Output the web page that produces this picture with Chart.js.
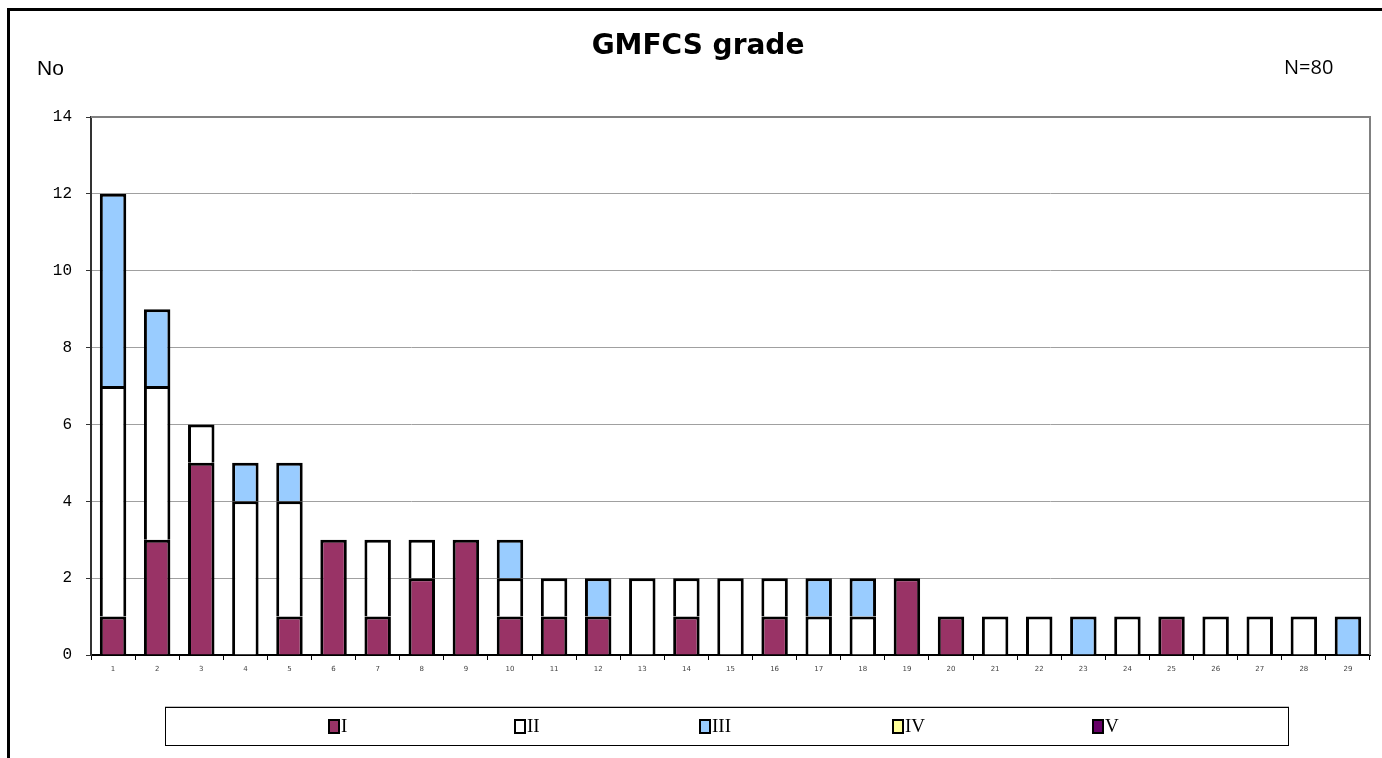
<!DOCTYPE html>
<html>
<head>
<meta charset="utf-8">
<script src="https://cdn.jsdelivr.net/npm/chart.js@4.4.1/dist/chart.umd.min.js"></script>
<style>
  html, body { margin: 0; padding: 0; background: #fff; overflow: hidden; }
  #wrap { position: relative; width: 1382px; height: 758px; }
  #frame { position: absolute; left: 7px; top: 8px; width: 1400px; height: 800px;
           border-left: 3px solid #000; border-top: 3px solid #000; }
  #gmfcsChart { position: absolute; left: 0; top: 0; }
</style>
</head>
<body>
<div id="wrap">
  <div id="frame"></div>
  <canvas id="gmfcsChart" width="1382" height="758"></canvas>
</div>
<script>
'use strict';

const categories = ['1', '2', '3', '4', '5', '6', '7', '8', '9', '10',
  '11', '12', '13', '14', '15', '16', '17', '18', '19', '20',
  '21', '22', '23', '24', '25', '26', '27', '28', '29'];

const gradeI   = [1, 3, 5, 0, 1, 3, 1, 2, 3, 1, 1, 1, 0, 1, 0, 1, 0, 0, 2, 1, 0, 0, 0, 0, 1, 0, 0, 0, 0];
const gradeII  = [6, 4, 1, 4, 3, 0, 2, 1, 0, 1, 1, 0, 2, 1, 2, 1, 1, 1, 0, 0, 1, 1, 0, 1, 0, 1, 1, 1, 0];
const gradeIII = [5, 2, 0, 1, 1, 0, 0, 0, 0, 1, 0, 1, 0, 0, 0, 0, 1, 1, 0, 0, 0, 0, 1, 0, 0, 0, 0, 0, 1];
const gradeIV  = [0, 0, 0, 0, 0, 0, 0, 0, 0, 0, 0, 0, 0, 0, 0, 0, 0, 0, 0, 0, 0, 0, 0, 0, 0, 0, 0, 0, 0];
const gradeV   = [0, 0, 0, 0, 0, 0, 0, 0, 0, 0, 0, 0, 0, 0, 0, 0, 0, 0, 0, 0, 0, 0, 0, 0, 0, 0, 0, 0, 0];

const yTicks = [0, 2, 4, 6, 8, 10, 12, 14];

const seriesNames = ['I', 'II', 'III', 'IV', 'V'];
const seriesColors = ['#993366', '#ffffff', '#99ccff', '#ffff99', '#660066'];

// texts, frame and the boxed legend drawn on top of the chart
const extrasPlugin = {
  id: 'extras',
  afterDraw(chart) {
    const ctx = chart.ctx;
    const area = chart.chartArea;
    ctx.save();

    // gray top/right edge of the plot area
    ctx.strokeStyle = '#808080';
    ctx.lineWidth = 2;
    ctx.beginPath();
    ctx.moveTo(area.left, area.top);
    ctx.lineTo(area.right, area.top);
    ctx.lineTo(area.right, area.bottom);
    ctx.stroke();

    ctx.fillStyle = '#000';
    ctx.textBaseline = 'middle';
    ctx.textAlign = 'center';
    ctx.font = 'bold 28px "DejaVu Sans"';
    ctx.fillText('GMFCS grade', 698, 47);

    ctx.textAlign = 'left';
    ctx.font = '21px "Liberation Sans"';
    ctx.fillText('No', 37, 69);
    ctx.font = '20px "Open Sans"';
    ctx.fillText('N=80', 1284, 68);

    // legend box
    ctx.strokeStyle = '#000';
    ctx.lineWidth = 1;
    ctx.strokeRect(165.5, 707.5, 1123, 38);
    ctx.strokeStyle = '#c0c0c0';
    ctx.beginPath();
    ctx.moveTo(165, 706.5);
    ctx.lineTo(1289, 706.5);
    ctx.stroke();

    const starts = [329, 515, 700, 893, 1093];
    ctx.font = '19px "Liberation Serif"';
    chart.data.datasets.forEach((ds, i) => {
      const x = starts[i];
      ctx.fillStyle = ds.backgroundColor;
      ctx.fillRect(x, 720, 10, 13);
      ctx.strokeStyle = '#000';
      ctx.lineWidth = 2;
      ctx.strokeRect(x, 720, 10, 13);
      ctx.fillStyle = '#000';
      ctx.fillText(ds.label, x + 12, 727);
    });
    ctx.restore();
  }
};

const datasets = [gradeI, gradeII, gradeIII, gradeIV, gradeV].map((values, i) => ({
  label: seriesNames[i],
  data: values,
  backgroundColor: seriesColors[i],
  borderColor: '#000',
  borderWidth: 3,
  barPercentage: 0.6,
  categoryPercentage: 1.0
}));

new Chart(document.getElementById('gmfcsChart').getContext('2d'), {
  type: 'bar',
  data: { labels: categories, datasets: datasets },
  options: {
    responsive: false,
    animation: false,
    layout: { padding: { left: 20, top: 117, right: 12, bottom: 78 } },
    plugins: {
      legend: { display: false },
      tooltip: { enabled: false }
    },
    scales: {
      x: {
        stacked: true,
        afterFit(axis) { axis.height = 25; },
        grid: {
          offset: true,
          drawOnChartArea: false,
          color: '#000',
          tickLength: 5
        },
        border: { color: '#000', width: 2 },
        ticks: {
          color: '#444',
          font: { family: 'DejaVu Sans', size: 7 },
          padding: 5,
          maxRotation: 0,
          autoSkip: false
        }
      },
      y: {
        stacked: true,
        min: 0,
        max: 14,
        afterFit(axis) { axis.width = 71; },
        afterBuildTicks(axis) { axis.ticks = yTicks.map(v => ({ value: v })); },
        grid: {
          color: '#a0a0a0',
          lineWidth: 1,
          tickColor: '#333',
          tickLength: 5
        },
        border: { color: '#333', width: 2 },
        ticks: {
          color: '#000',
          font: { family: 'Liberation Mono', size: 16 },
          padding: 14
        }
      }
    }
  },
  plugins: [extrasPlugin]
});
</script>
</body>
</html>
